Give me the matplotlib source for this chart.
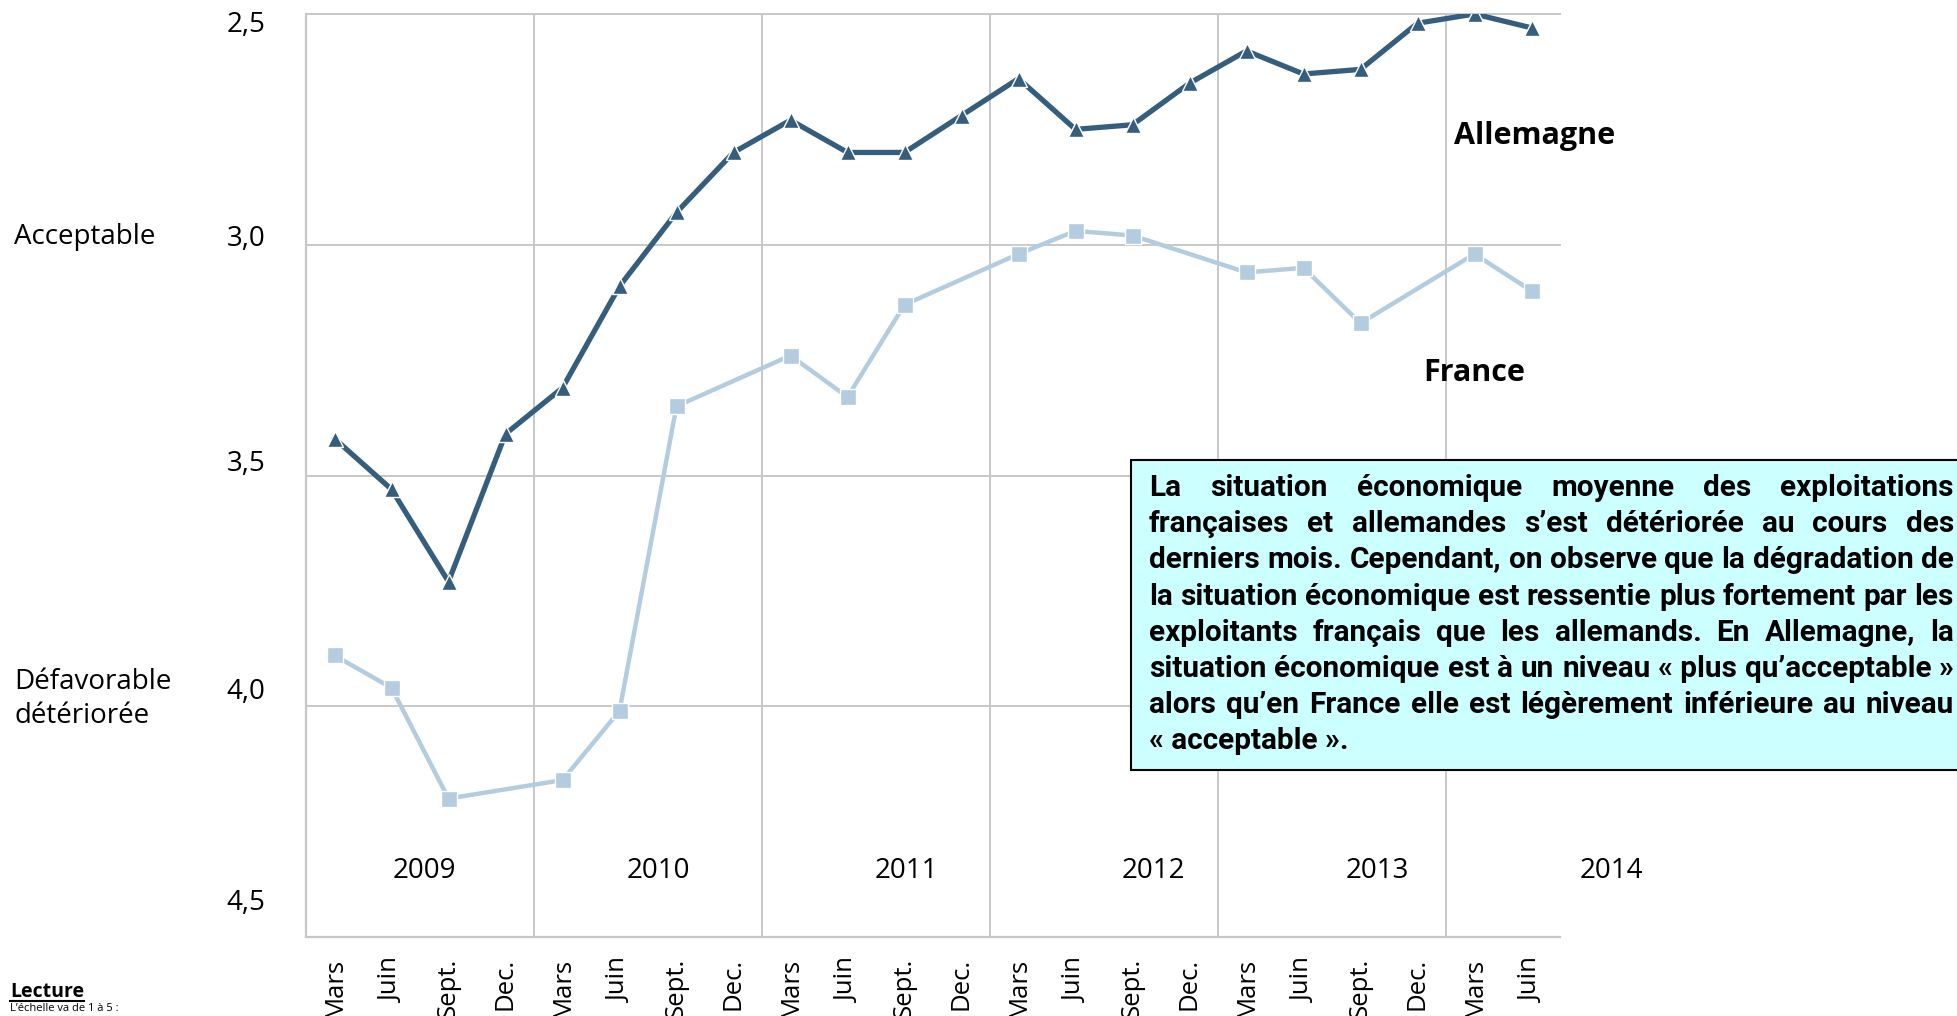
import numpy as np
import matplotlib
matplotlib.use("Agg")
import matplotlib.pyplot as plt
from matplotlib import font_manager
from matplotlib.lines import Line2D
from matplotlib.patches import Rectangle

# --- data ---
mois = ["Mars", "Juin", "Sept.", "Dec."] * 5 + ["Mars", "Juin"]
annees = ["2009", "2010", "2011", "2012", "2013", "2014"]
allemagne = [3.42, 3.53, 3.73, 3.41, 3.31, 3.09, 2.93, 2.80, 2.73, 2.80, 2.80,
             2.72, 2.64, 2.75, 2.74, 2.65, 2.58, 2.63, 2.62, 2.52, 2.50, 2.53]
france = [3.89, 3.96, 4.20, np.nan, 4.16, 4.01, 3.35, np.nan, 3.24, 3.33, 3.13,
          np.nan, 3.02, 2.97, 2.98, np.nan, 3.06, 3.05, 3.17, np.nan, 3.02, 3.10]
yticks = [2.5, 3.0, 3.5, 4.0, 4.5]
ytick_labels = ["2,5", "3,0", "3,5", "4,0", "4,5"]

box_lines = [
    "La situation économique moyenne des exploitations",
    "françaises et allemandes s’est détériorée au cours des",
    "derniers mois. Cependant, on observe que la dégradation de",
    "la situation économique est ressentie plus fortement par les",
    "exploitants français que les allemands. En Allemagne, la",
    "situation économique est à un niveau «\u00a0plus qu’acceptable\u00a0»",
    "alors qu’en France elle est légèrement inférieure au niveau",
    "«\u00a0acceptable\u00a0».",
]

C_DE = "#355E7E"
C_FR = "#B4CCE0"
GRID = "#C8C8C8"


def pick(names, weight="normal"):
    for n in names:
        try:
            font_manager.findfont(font_manager.FontProperties(family=n, weight=weight),
                                  fallback_to_default=False)
            return n
        except ValueError:
            pass
    return "DejaVu Sans"


FONT = pick(["Open Sans", "Lato", "DejaVu Sans"])
BOXFONT = pick(["Liberation Sans Narrow", "Roboto", "Open Sans"], "bold")
plt.rcParams["font.family"] = [FONT, "DejaVu Sans"]

W, H = 1957, 1016
fig = plt.figure(figsize=(W / 100, H / 100), dpi=100)
ax = fig.add_axes([306 / W, 1 - 937 / H, (1560 - 306) / W, (937 - 14) / H])

x = np.arange(len(mois))
de = np.array(allemagne)
fr = np.array(france)
ok = ~np.isnan(fr)

ax.plot(x, de, color=C_DE, lw=3.8, marker="^", ms=12, mfc=C_DE,
        mec="white", mew=1, zorder=4, solid_joinstyle="miter")
ax.plot(x[ok], fr[ok], color=C_FR, lw=3.2, marker="s", ms=11, mfc=C_FR,
        mec="white", mew=1, zorder=3)

ax.set_xlim(-0.5, len(mois) - 0.5)
ax.set_ylim(4.5, 2.5)
ax.set_xticks(x)
ax.set_xticklabels(mois, rotation=90, fontsize=18.5, va="top")
ax.tick_params(axis="x", length=0, pad=15)
ax.set_yticks([])

# year separators and horizontal grid
for gx in np.arange(3.5, len(mois) - 1, 4):
    ax.axvline(gx, color=GRID, lw=1.4, zorder=1)
for gy in yticks[:-1]:
    ax.axhline(gy, color=GRID, lw=1.4, zorder=1, clip_on=False)
for s in ["top", "right"]:
    ax.spines[s].set_visible(False)
for s in ["left", "bottom"]:
    ax.spines[s].set_color(GRID)
    ax.spines[s].set_linewidth(1.6)

# y labels, nudged like the original text boxes
label_dy = [-8, 4, 8, 10.5, 24.5]
for v, lab, dy in zip(yticks, ytick_labels, label_dy):
    ax.annotate(lab, xy=(0, v), xycoords=("axes fraction", "data"),
                xytext=(-29, dy), textcoords="offset points",
                ha="right", va="center", fontsize=20)

# year labels
year_x = [1.57, 5.68, 10.04, 14.36, 18.3, 22.4]
for yx, yr in zip(year_x, annees):
    ax.text(yx, 4.357, yr, ha="center", va="center", fontsize=20, clip_on=False)

ax.text(21.06, 2.764, "Allemagne", ha="center", va="center", fontsize=22,
        fontweight="bold", clip_on=False)
ax.text(20.0, 3.278, "France", ha="center", va="center", fontsize=22,
        fontweight="bold", clip_on=False)

fig.text(14 / W, 1 - 237 / H, "Acceptable", ha="left", va="center", fontsize=20)
fig.text(14 / W, 1 - 699 / H, "Défavorable\ndétériorée", ha="left", va="center",
         fontsize=20, linespacing=1.25)

# Lecture
lec = fig.text(10 / W, 1 - 992 / H, "Lecture", ha="left", va="center",
               fontsize=14, fontweight="bold")
fig.text(10 / W, 2 / H, "L’échelle va de 1 à 5 :", ha="left", va="bottom",
         fontsize=8)

# text box
fig.patches.append(Rectangle((1131 / W, 1 - 770 / H), (2000 - 1131) / W, 310 / H,
                             transform=fig.transFigure, facecolor="#CCFFFF",
                             edgecolor="black", lw=1.5, zorder=0))

r = fig.canvas.get_renderer()


def width(s, fs):
    t = fig.text(0, 0, s, fontsize=fs, fontweight="bold", family=[BOXFONT, "DejaVu Sans"])
    w = t.get_window_extent(r).width
    t.remove()
    return w


x0, x1 = 1149, 1954
fs = 20
natural = max(width(l, fs) for l in box_lines[:-1])
fs = min(22, fs * (x1 - x0 - 4) / natural)

for i, line in enumerate(box_lines):
    yb = 1 - (496 + i * 36.2) / H
    words = line.split(" ")
    if i == len(box_lines) - 1 or len(words) == 1:
        fig.text(x0 / W, yb, line, fontsize=fs, fontweight="bold", va="baseline",
                 family=[BOXFONT, "DejaVu Sans"])
        continue
    ws = [width(w_, fs) for w_ in words]
    gap = (x1 - x0 - sum(ws)) / (len(words) - 1)
    px = x0
    for w_, ww in zip(words, ws):
        fig.text(px / W, yb, w_, fontsize=fs, fontweight="bold", va="baseline",
                 family=[BOXFONT, "DejaVu Sans"])
        px += ww + gap

bb = lec.get_window_extent(r)
fig.add_artist(Line2D([bb.x0 / W, bb.x1 / W], [(bb.y0 + 1) / H, (bb.y0 + 1) / H],
                      transform=fig.transFigure, color="black", lw=1.5))

fig.savefig("out.png", dpi=100)
